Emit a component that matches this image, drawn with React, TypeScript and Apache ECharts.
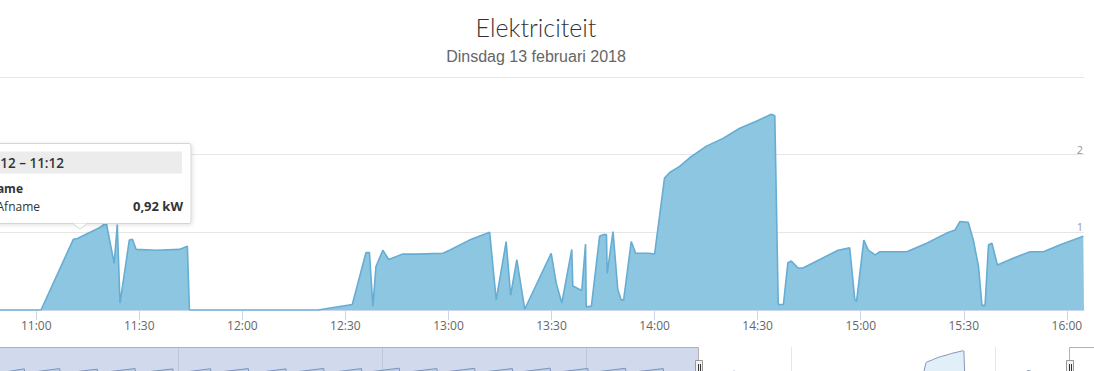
import React, { useEffect, useRef } from "react";
import * as echarts from "echarts";

const chartTitle = "Elektriciteit";
const chartSubtitle = "Dinsdag 13 februari 2018";
const seriesName = "Afname";

const xTickLabels = ["11:00", "11:30", "12:00", "12:30", "13:00", "13:30", "14:00", "14:30", "15:00", "15:30", "16:00"];
const yTickValues = [0, 1, 2];

const times = [
  "10:45:00", "11:01:24", "11:10:48", "11:12:00", "11:18:24", "11:20:24", "11:22:42", "11:23:36", "11:24:24",
  "11:27:06", "11:28:00", "11:29:06", "11:35:00", "11:41:42", "11:44:00", "11:44:36", "12:22:00", "12:32:00",
  "12:36:00", "12:37:00", "12:38:00", "12:38:54", "12:40:54", "12:42:36", "12:46:42", "12:50:36", "12:58:24",
  "13:00:18", "13:06:06", "13:12:00", "13:13:54", "13:16:48", "13:18:06", "13:19:54", "13:22:12", "13:29:54",
  "13:31:24", "13:33:00", "13:35:54", "13:36:12", "13:38:48", "13:39:54", "13:40:06", "13:41:36", "13:44:00",
  "13:45:00", "13:46:00", "13:46:12", "13:47:54", "13:49:18", "13:50:18", "13:51:00", "13:53:12", "13:54:30",
  "13:58:24", "14:00:00", "14:02:54", "14:04:24", "14:07:18", "14:10:12", "14:15:06", "14:19:54", "14:24:48",
  "14:29:36", "14:34:00", "14:35:00", "14:36:00", "14:37:30", "14:38:48", "14:39:48", "14:41:48", "14:43:12",
  "14:48:06", "14:53:24", "14:56:48", "14:58:18", "14:58:48", "15:00:54", "15:02:12", "15:04:12", "15:05:36",
  "15:13:24", "15:19:12", "15:25:00", "15:27:30", "15:28:54", "15:31:18", "15:32:48", "15:34:18", "15:35:18",
  "15:36:12", "15:37:12", "15:38:12", "15:39:48", "15:44:30", "15:49:18", "15:53:12", "15:58:06", "16:04:48",
  "16:05:00",
];
const values = [
  0, 0, 0.91, 0.92, 1.06, 1.12, 0.6, 1.1, 0.09,
  0.9, 0.91, 0.78, 0.77, 0.78, 0.82, 0, 0, 0.07,
  0.74, 0.74, 0.05, 0.56, 0.77, 0.65, 0.72, 0.72, 0.73,
  0.77, 0.9, 1.0, 0.13, 0.88, 0.19, 0.65, 0.01, 0.73,
  0.34, 0.09, 0.78, 0.31, 0.25, 0.85, 0.04, 0.05, 0.95,
  0.97, 0.97, 0.47, 1.01, 0.26, 0.13, 0.13, 0.88, 0.73,
  0.73, 0.72, 1.7, 1.77, 1.85, 1.96, 2.11, 2.21, 2.34,
  2.43, 2.52, 2.5, 0.07, 0.07, 0.61, 0.63, 0.54, 0.54,
  0.65, 0.77, 0.8, 0.13, 0.11, 0.9, 0.77, 0.71, 0.75,
  0.75, 0.86, 0.99, 1.03, 1.14, 1.13, 0.9, 0.56, 0.06,
  0.06, 0.84, 0.86, 0.58, 0.67, 0.75, 0.75, 0.84, 0.95,
  0.95,
];

// earlier part of the day, only visible in the navigator strip
const earlyTimes = [
  "01:00", "01:18", "01:20", "01:22", "01:48", "01:50", "01:53", "02:20", "02:22", "02:25", "02:52", "02:54",
  "02:57", "03:24", "03:26", "03:29", "03:56", "03:58", "04:01", "04:28", "04:30", "04:33", "05:00", "05:02",
  "05:05", "05:32", "05:34", "05:37", "06:04", "06:06", "06:09", "06:36", "06:38", "06:41", "07:08", "07:10",
  "07:13", "07:40", "07:42", "07:45", "08:12", "08:14", "08:17", "08:44", "08:46", "08:49", "09:16", "09:18",
  "09:21", "09:48", "09:50", "09:53", "10:20", "10:22",
];
const earlyValues = [
  1.02, 1.26, 0.05, 1.0, 1.28, 0.05, 0.98, 1.24, 0.05, 1.02, 1.28, 0.05,
  1.0, 1.26, 0.05, 0.98, 1.27, 0.05, 1.02, 1.28, 0.05, 0.98, 1.26, 0.05,
  1.02, 1.29, 0.05, 1.0, 1.28, 0.05, 1.03, 1.31, 0.05, 1.02, 1.28, 0.05,
  1.03, 1.3, 0.05, 1.02, 1.28, 0.05, 1.03, 1.31, 0.05, 1.02, 1.29, 0.05,
  1.03, 1.3, 0.05, 1.02, 1.28, 0,
];

const tooltipHeader = "11:12 – 11:12";
const tooltipGroup = "Afname";
const tooltipValue = "0,92 kW";

const toMin = (s: string) => {
  const p = s.split(":").map(Number);
  return p[0] * 60 + p[1] + (p[2] || 0) / 60;
};
const fmt = (v: number) => {
  const h = Math.floor(v / 60);
  const m = Math.round(v - h * 60);
  return `${String(h).padStart(2, "0")}:${String(m).padStart(2, "0")}`;
};

const FONT = "'Open Sans', 'DejaVu Sans', sans-serif";

export default function App() {
  const ref = useRef<HTMLDivElement>(null);
  useEffect(() => {
    if (!ref.current) return;
    const chart = echarts.init(ref.current, undefined, { renderer: "svg" });
    const mainData = times.map((t, i) => [toMin(t), values[i]]);
    const navData = earlyTimes.map((t, i) => [toMin(t), earlyValues[i]]).concat(mainData);
    const tickVals = xTickLabels.map(toMin);

    const mainMin = 649.46;
    const mainMax = 965;
    // navigator: selected range sits between page x 698 and 1070
    const navPxPerMin = (1070 - 698) / (mainMax - mainMin);
    const navMin = mainMin - 698 / navPxPerMin;
    const navMax = navMin + 1084 / navPxPerMin;

    const navGrid = [178, 382, 586, 791, 995];

    chart.setOption({
      animation: false,
      backgroundColor: "#fff",
      grid: [
        { left: 0, right: 10, top: 77, height: 233 },
        { left: 0, right: 10, top: 347, height: 40 },
      ],
      xAxis: [
        {
          type: "value",
          gridIndex: 0,
          min: mainMin,
          max: mainMax,
          axisLine: { show: true, lineStyle: { color: "#ccd6eb" } },
          axisTick: { show: true, length: 10, lineStyle: { color: "#ccd6eb" }, customValues: tickVals },
          axisLabel: {
            customValues: tickVals,
            formatter: (v: number) => fmt(v),
            color: "#666",
            fontSize: 12,
            fontFamily: FONT,
            margin: 9,
          },
          splitLine: { show: false },
        },
        {
          type: "value",
          gridIndex: 1,
          min: navMin,
          max: navMax,
          show: false,
        },
      ],
      yAxis: [
        {
          type: "value",
          gridIndex: 0,
          position: "right",
          min: 0,
          max: 3,
          interval: 1,
          axisLine: { show: false },
          axisTick: { show: false },
          axisLabel: {
            inside: true,
            margin: 1,
            verticalAlign: "bottom",
            color: "#999",
            fontSize: 11,
            fontFamily: FONT,
            formatter: (v: number) => (yTickValues.includes(v) ? String(v) : ""),
          },
          splitLine: { show: true, lineStyle: { color: "#e6e6e6" } },
        },
        { type: "value", gridIndex: 1, min: 0, max: 2.78, show: false },
      ],
      series: [
        {
          name: seriesName,
          type: "line",
          xAxisIndex: 0,
          yAxisIndex: 0,
          data: mainData,
          showSymbol: false,
          symbol: "none",
          lineStyle: { color: "#66add3", width: 1.6 },
          areaStyle: { color: "#8dc6e0", opacity: 1 },
          z: 2,
        },
        {
          name: "navigator",
          type: "line",
          xAxisIndex: 1,
          yAxisIndex: 1,
          data: navData,
          showSymbol: false,
          symbol: "none",
          lineStyle: { color: "#8797b9", width: 1 },
          areaStyle: { color: "#e1eff8", opacity: 1 },
          z: 2,
        },
      ],
      graphic: [
        {
          type: "text",
          x: 536,
          y: 27,
          style: {
            text: chartTitle,
            fill: "#333",
            fontSize: 25,
            fontFamily: "Lato, 'Open Sans', sans-serif",
            fontWeight: 300,
            align: "center",
            verticalAlign: "middle",
            textAlign: "center",
            textVerticalAlign: "middle",
          },
        },
        {
          type: "text",
          x: 536,
          y: 56,
          style: {
            text: chartSubtitle,
            fill: "#666",
            fontSize: 16,
            fontFamily: "'Liberation Sans', Arial, sans-serif",
            align: "center",
            verticalAlign: "middle",
            textAlign: "center",
            textVerticalAlign: "middle",
          },
        },
        // navigator decorations
        ...navGrid.map((x) => ({
          type: "line",
          z: 1,
          shape: { x1: x + 0.5, y1: 347, x2: x + 0.5, y2: 390 },
          style: { stroke: "#e6e6e6", lineWidth: 1 },
        })),
        {
          type: "rect",
          z: 50,
          shape: { x: -5, y: 347.5, width: 703.5, height: 45 },
          style: { fill: "rgba(102,133,194,0.3)" },
        },
        {
          type: "polyline",
          z: 51,
          shape: {
            points: [
              [-5, 347.5],
              [698.5, 347.5],
              [698.5, 388],
              [1069.5, 388],
              [1069.5, 347.5],
              [1100, 347.5],
            ],
          },
          style: { stroke: "#b2b1b6", lineWidth: 1, fill: "none" },
        },
        ...[695, 1066].flatMap((hx) => [
          {
            type: "rect",
            z: 52,
            shape: { x: hx + 0.5, y: 360.5, width: 7, height: 15 },
            style: { fill: "#f2f2f2", stroke: "#999", lineWidth: 1 },
          },
          {
            type: "line",
            z: 53,
            shape: { x1: hx + 3.5, y1: 364, x2: hx + 3.5, y2: 373 },
            style: { stroke: "#333", lineWidth: 1 },
          },
          {
            type: "line",
            z: 53,
            shape: { x1: hx + 5.5, y1: 364, x2: hx + 5.5, y2: 373 },
            style: { stroke: "#333", lineWidth: 1 },
          },
        ]),
        // tooltip
        {
          type: "rect",
          z: 100,
          shape: { x: -90, y: 143.5, width: 281, height: 80, r: 2 },
          style: {
            fill: "rgba(255,255,255,0.97)",
            stroke: "#d4d4d4",
            lineWidth: 1,
            shadowBlur: 4,
            shadowOffsetX: 1,
            shadowOffsetY: 1,
            shadowColor: "rgba(0,0,0,0.12)",
          },
        },
        {
          type: "polygon",
          z: 101,
          shape: { points: [[72, 223], [80, 229], [88, 223]] },
          style: { fill: "#fff", stroke: "#d4d4d4", lineWidth: 1 },
        },
        {
          type: "rect",
          z: 102,
          shape: { x: 72.5, y: 221, width: 15, height: 2 },
          style: { fill: "#fff" },
        },
        {
          type: "rect",
          z: 101,
          shape: { x: -90, y: 151.5, width: 272, height: 22 },
          style: { fill: "#ececec" },
        },
        {
          type: "text",
          z: 103,
          x: 64,
          y: 162.5,
          style: {
            text: tooltipHeader,
            fill: "#333",
            fontSize: 13.5,
            fontWeight: 600,
            fontFamily: FONT,
            align: "right",
            verticalAlign: "middle",
            textAlign: "right",
            textVerticalAlign: "middle",
          },
        },
        {
          type: "text",
          z: 103,
          x: 23,
          y: 188,
          style: {
            text: tooltipGroup,
            fill: "#333",
            fontSize: 12,
            fontWeight: "bold",
            fontFamily: FONT,
            align: "right",
            verticalAlign: "middle",
            textAlign: "right",
            textVerticalAlign: "middle",
          },
        },
        {
          type: "text",
          z: 103,
          x: 40,
          y: 206,
          style: {
            text: seriesName,
            fill: "#333",
            fontSize: 12,
            fontFamily: FONT,
            align: "right",
            verticalAlign: "middle",
            textAlign: "right",
            textVerticalAlign: "middle",
          },
        },
        {
          type: "text",
          z: 103,
          x: 183,
          y: 206,
          style: {
            text: tooltipValue,
            fill: "#333",
            fontSize: 13,
            fontWeight: "bold",
            fontFamily: FONT,
            align: "right",
            verticalAlign: "middle",
            textAlign: "right",
            textVerticalAlign: "middle",
          },
        },
      ],
    });
    return () => chart.dispose();
  }, []);
  return (
    <div style={{ position: "fixed", left: 0, top: 0, width: 1094, height: 371, overflow: "hidden" }}>
      <div ref={ref} style={{ width: 1094, height: 400 }} />
    </div>
  );
}
